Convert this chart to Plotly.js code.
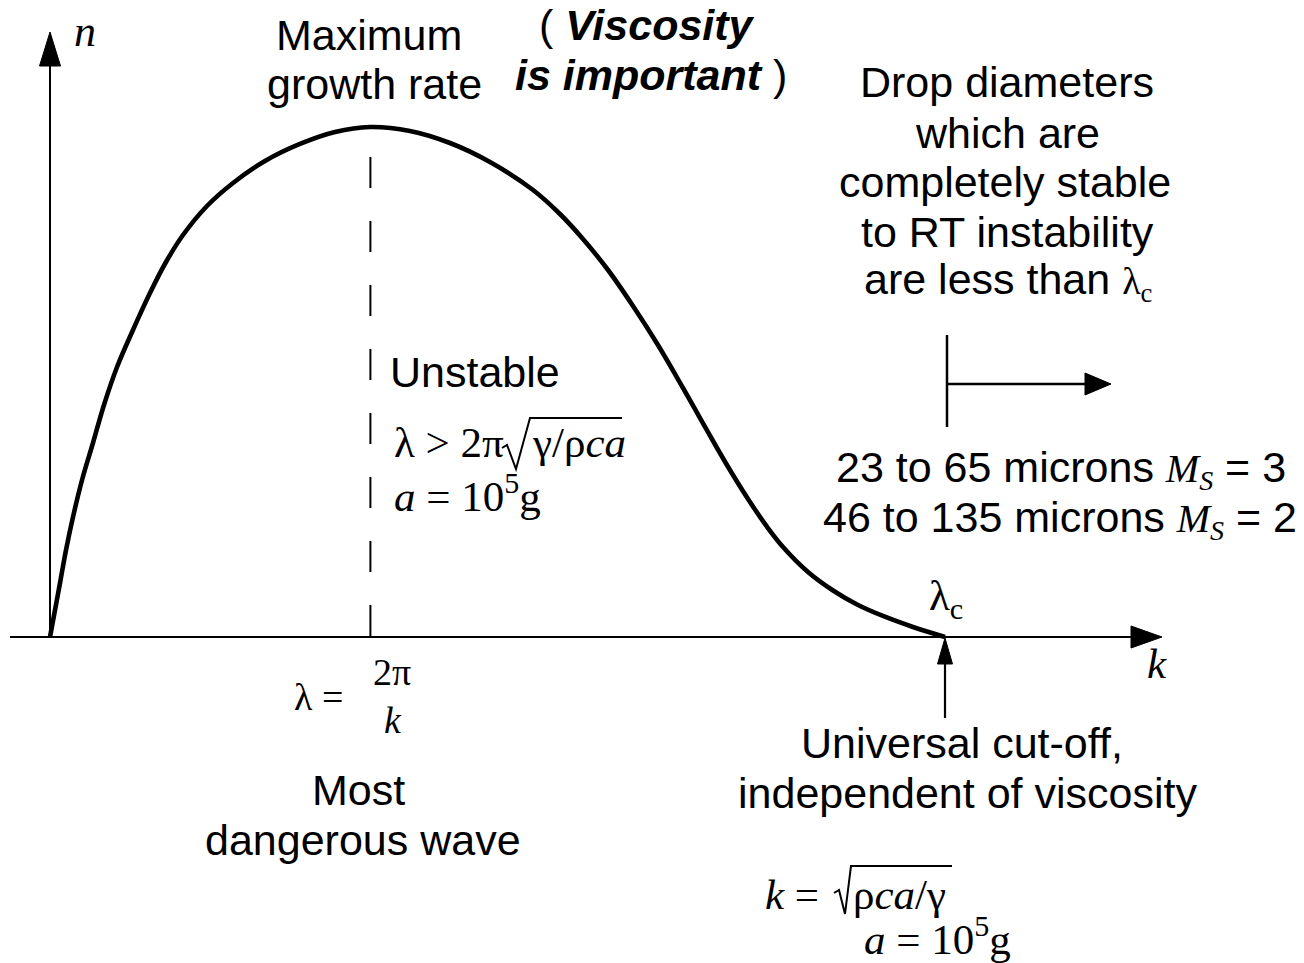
<!DOCTYPE html>
<html><head><meta charset="utf-8">
<script src="https://cdn.plot.ly/plotly-3.0.1.min.js"></script>
<style>html,body{margin:0;padding:0;background:#fff;overflow:hidden}#chart{width:1304px;height:963px}</style>
</head><body><div id="chart"></div>
<script>
// ---- data (normalised wavenumber k, growth rate n) ----
const kCurve = [0, 0.0056, 0.0112, 0.0179, 0.0257, 0.0358, 0.0480, 0.0603, 0.0749, 0.0927, 0.1117, 0.1296, 0.1486, 0.1754, 0.2045, 0.2402, 0.2793, 0.3184, 0.3575, 0.4022, 0.4469, 0.4916, 0.5397, 0.5698, 0.5955, 0.6235, 0.6514, 0.6793, 0.7073, 0.7263, 0.7453, 0.7631, 0.7821, 0.8011, 0.8190, 0.8469, 0.8749, 0.9028, 0.9307, 0.9642, 1.0];
const nCurve = [0, 0.0529, 0.1059, 0.1706, 0.2353, 0.3078, 0.3804, 0.4549, 0.5294, 0.6020, 0.6745, 0.7353, 0.7882, 0.8451, 0.8902, 0.9333, 0.9667, 0.9902, 1.0, 0.9922, 0.9686, 0.9314, 0.8765, 0.8294, 0.7804, 0.7196, 0.6490, 0.5725, 0.4882, 0.4294, 0.3706, 0.3176, 0.2647, 0.2163, 0.1765, 0.1275, 0.0912, 0.0627, 0.0412, 0.0196, 0];
const kPeak = 0.358;      // most dangerous wave
const nDashTop = 0.941;   // top of the dashed marker
const kCutoff = 1.0;      // universal cut-off

// ---- page geometry helpers (pixel -> data units) ----
const W = 1304, H = 963, X0 = 50, Y0 = 637, SX = 895, SY = 510;
const X = px => (px - X0) / SX;
const Y = py => (Y0 - py) / SY;

const SANS = 'Liberation Sans, Arial, sans-serif';
const SERIF = 'Liberation Serif, Times New Roman, serif';
const FS = 43;

function T(text, px, base, size, family, anchor) {
  return {text: text, x: X(px), y: Y(base - 0.35 * size), xref: 'x', yref: 'y',
    xanchor: anchor || 'center', yanchor: 'middle', showarrow: false,
    font: {family: family, size: size, color: '#000'}};
}
function L(x1, y1, x2, y2, w) {
  return {type: 'line', xref: 'x', yref: 'y', x0: X(x1), y0: Y(y1), x1: X(x2), y1: Y(y2),
    line: {color: '#000', width: w || 2}};
}
function PL(pts, w) {
  const p = pts.map((q, i) => (i ? 'L' : 'M') + X(q[0]) + ',' + Y(q[1])).join(' ');
  return {type: 'path', xref: 'x', yref: 'y', path: p, line: {color: '#000', width: w || 2}};
}
function TRI(pts) {
  const p = pts.map((q, i) => (i ? 'L' : 'M') + X(q[0]) + ',' + Y(q[1])).join(' ') + ' Z';
  return {type: 'path', xref: 'x', yref: 'y', path: p, fillcolor: '#000', line: {color: '#000', width: 1}};
}

const traces = [
  {x: kCurve, y: nCurve, type: 'scatter', mode: 'lines',
   line: {color: '#000', width: 4.6, shape: 'spline', smoothing: 1}, hoverinfo: 'skip'},
  {x: [kPeak, kPeak], y: [nDashTop, 0], type: 'scatter', mode: 'lines',
   line: {color: '#000', width: 2, dash: '31px,33px'}, hoverinfo: 'skip'}
];

const shapes = [
  // y axis
  L(50, 637, 50, 62, 2), TRI([[50, 32], [39.5, 66], [60.5, 66]]),
  // x axis
  L(10, 637, 1135, 637, 2), TRI([[1162, 637], [1131, 626], [1131, 648]]),
  // cut-off arrow
  L(945, 718, 945, 660, 2.2), TRI([[945, 638], [937.5, 664], [952.5, 664]]),
  // stable-range arrow
  L(947, 335, 947, 427, 2.5), L(947, 384, 1088, 384, 2.5), TRI([[1111, 384], [1085, 373], [1085, 395]]),
  // radicals with their overlines
  PL([[502, 448], [507, 445], [516, 469], [530, 418], [622, 418]], 2),
  PL([[834, 893], [839, 890], [845, 914], [851, 866], [952, 866]], 2)
];

const annotations = [
  T('<i>n</i>', 72, 47, 44, SERIF, 'left'),
  T('Maximum', 369, 50, FS, SANS),
  T('growth rate', 374, 99, FS, SANS),
  T('( <b><i>Viscosity</i></b>', 647, 40, FS, SANS),
  T('<b><i>is important</i></b> )', 651, 90, FS, SANS),
  T('Drop diameters', 1007, 97, FS, SANS),
  T('which are', 1007, 148, FS, SANS),
  T('completely stable', 1005, 197, FS, SANS),
  T('to RT instability', 1007, 247, FS, SANS),
  T('are less than <span style="font-family:Liberation Serif;font-size:38px">λ<sub>c</sub></span>', 1008, 297, FS, SANS),
  T('Unstable', 388, 387, FS, SANS, 'left'),
  T('λ &gt; 2π', 392, 458, 43, SERIF, 'left'),
  T('γ/ρ<i>ca</i>', 530, 458, 43, SERIF, 'left'),
  T('<i>a</i> = 10<sup>5</sup>g', 392, 508, 43, SERIF, 'left'),
  T('23 to 65 microns <span style="font-family:Liberation Serif;font-size:40px"><i>M<sub>S</sub></i></span> = 3', 1061, 485, FS, SANS),
  T('46 to 135 microns <span style="font-family:Liberation Serif;font-size:40px"><i>M<sub>S</sub></i></span> = 2', 1060, 535, FS, SANS),
  T('λ<sub>c</sub>', 946, 614, 43, SERIF),
  T('<i>k</i>', 1157, 679, 43, SERIF),
  T('λ =', 318, 710, 38, SERIF),
  T('2π', 392, 685, 38, SERIF),
  T('<i>k</i>', 393, 733, 38, SERIF),
  T('Most', 358, 805, FS, SANS),
  T('dangerous wave', 363, 855, FS, SANS),
  T('Universal cut-off,', 962, 758, FS, SANS),
  T('independent of viscosity', 967, 808, FS, SANS),
  T('<i>k</i> =', 763, 910, 43, SERIF, 'left'),
  T('ρ<i>ca</i>/γ', 851, 910, 43, SERIF, 'left'),
  T('<i>a</i> = 10<sup>5</sup>g', 862, 951, 43, SERIF, 'left')
];

const layout = {
  width: W, height: H, margin: {l: 0, r: 0, t: 0, b: 0},
  paper_bgcolor: '#fff', plot_bgcolor: '#fff', showlegend: false,
  xaxis: {range: [X(0), X(W)], visible: false, fixedrange: true},
  yaxis: {range: [Y(H), Y(0)], visible: false, fixedrange: true},
  shapes: shapes, annotations: annotations
};

Plotly.newPlot('chart', traces, layout, {displayModeBar: false, staticPlot: true});
</script></body></html>
